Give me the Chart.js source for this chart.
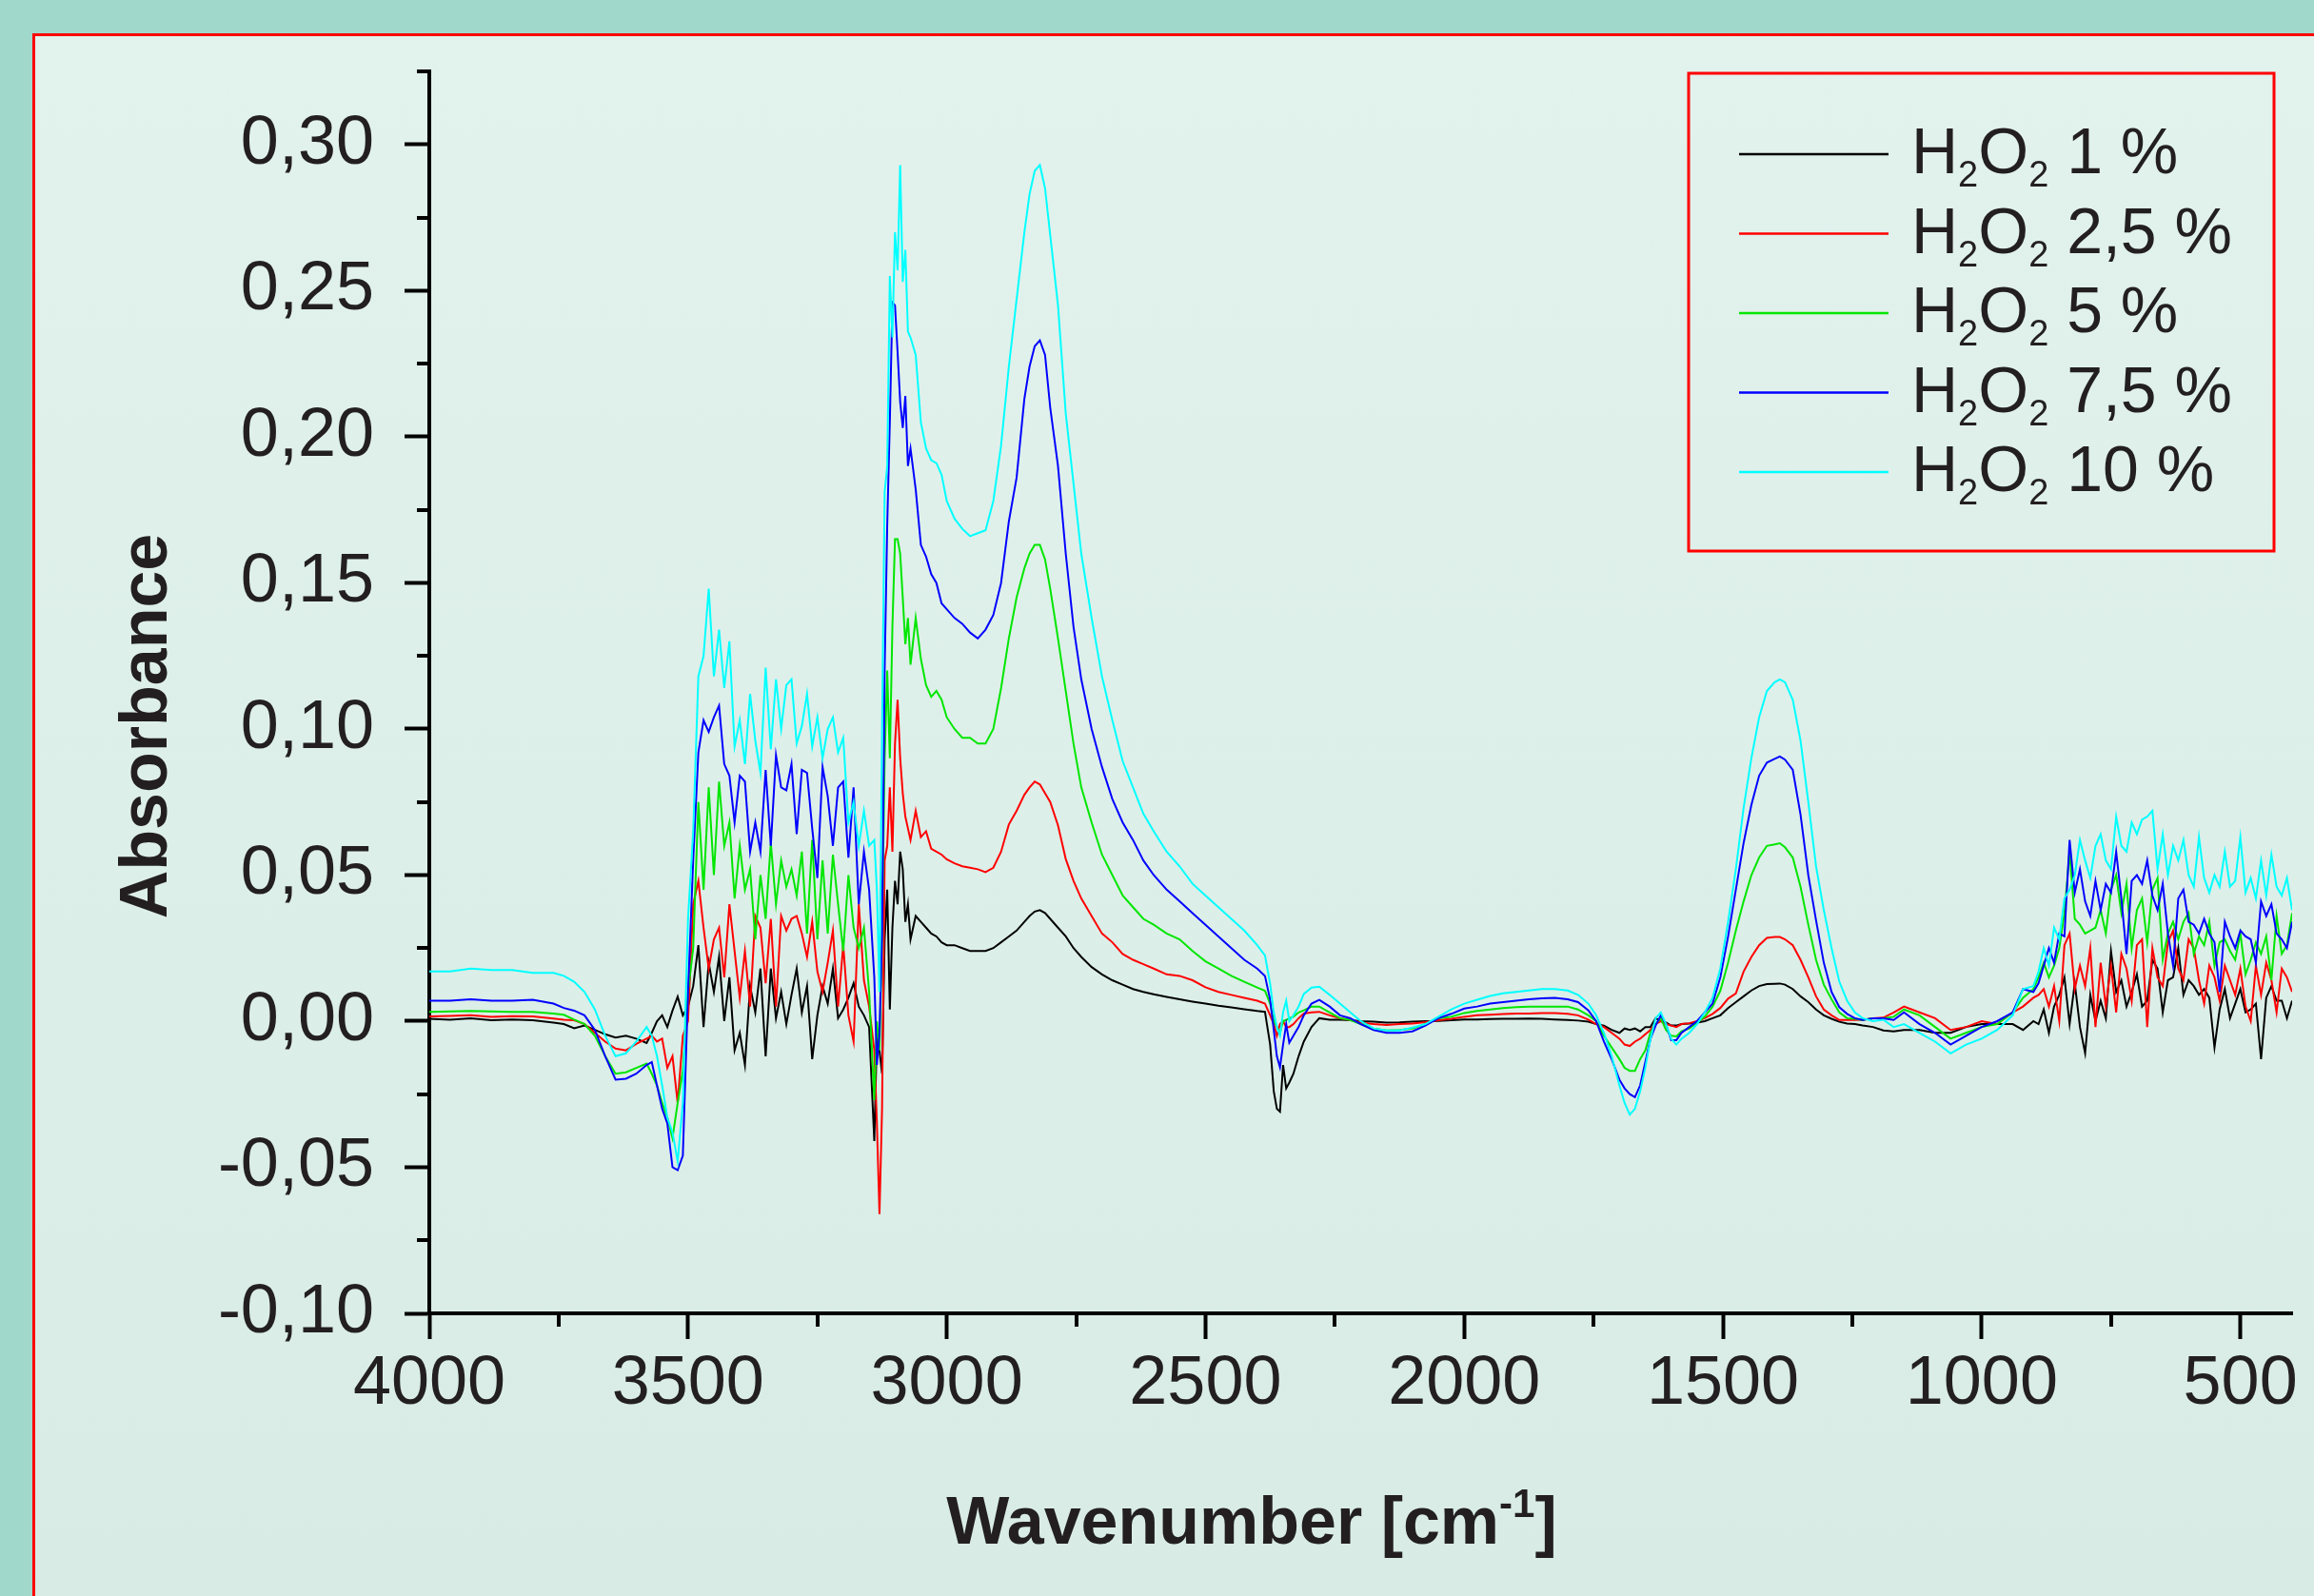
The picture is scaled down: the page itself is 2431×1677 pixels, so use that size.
<!DOCTYPE html>
<html>
<head>
<meta charset="utf-8">
<title>Absorbance H2O2</title>
<script src="https://cdn.jsdelivr.net/npm/chart.js@4.4.1/dist/chart.umd.min.js"></script>
<style>
  html, body { margin: 0; padding: 0; width: 2431px; height: 1677px; overflow: hidden; background: #a0d8cb; }
  #panel { position: absolute; left: 34px; top: 35px; width: 2420px; height: 1660px;
           border-left: 3px solid #ff0000; border-top: 3px solid #ff0000;
           background: linear-gradient(#e2f2ed, #d8ece5); }
  #chart { position: absolute; left: 0; top: 0; }
</style>
</head>
<body>
<div id="panel"></div>
<canvas id="chart" width="2431" height="1677"></canvas>
<script>
// x values (cm-1), shared by all series
const wavenumbers = [
  4000, 3960, 3920, 3880, 3840, 3800, 3760, 3740, 3720, 3700,
  3680, 3660, 3640, 3620, 3600, 3580, 3570, 3560, 3550, 3540,
  3530, 3520, 3510,
  3500, 3490, 3480, 3470, 3460, 3450, 3440, 3430, 3420, 3410,
  3400, 3390, 3380, 3370, 3360, 3350, 3340, 3330, 3320, 3310,
  3300, 3290, 3280, 3270, 3260, 3250, 3240, 3230, 3220, 3210,
  3200, 3190, 3180, 3170, 3160, 3150, 3140,
  3135, 3130, 3125, 3120, 3115, 3110, 3105, 3100, 3095, 3090,
  3085, 3080, 3075, 3070, 3060, 3050, 3040, 3030, 3020, 3010,
  3000, 2985, 2970, 2955, 2940, 2925, 2910, 2895, 2880, 2865,
  2850, 2840, 2830, 2820, 2810, 2800, 2785, 2770, 2755, 2740,
  2720, 2700, 2680, 2660, 2640, 2620, 2600, 2575, 2550, 2525,
  2500, 2475, 2450, 2425, 2400, 2385,
  2375, 2368, 2362, 2356, 2350, 2344, 2338, 2330, 2320, 2310,
  2295, 2280, 2260, 2240, 2220, 2200, 2175, 2150, 2125, 2100,
  2075, 2050, 2025, 2000, 1975, 1950, 1925, 1900, 1875, 1850,
  1825, 1800, 1780, 1760, 1745, 1730, 1715, 1700, 1690, 1680,
  1670, 1660, 1650, 1640, 1630, 1620, 1610, 1600, 1590, 1580,
  1565, 1550, 1535, 1520, 1505, 1490, 1475, 1460, 1445, 1430,
  1415, 1400, 1390, 1380, 1365, 1350, 1335, 1320, 1305, 1290,
  1275, 1260, 1245, 1230, 1210, 1190, 1170, 1150,
  1120, 1090, 1060, 1030, 1000, 970, 940, 920, 900,
  890, 880, 870, 860, 850, 840, 830, 820, 810, 800,
  790, 780, 770, 760, 750, 740, 730, 720, 710, 700,
  690, 680, 670, 660, 650, 640, 630, 620, 610, 600,
  590, 580, 570, 560, 550, 540, 530, 520, 510, 500,
  490, 480, 470, 460, 450, 440, 430, 420, 410, 400
];

// H2O2 1 %
const abs1 = [
  0.0008, 0.0005, 0.001, 0.0003, 0.0006, 0.0003, -0.0005, -0.001, -0.0024, -0.0015,
  -0.003, -0.0045, -0.0056, -0.005, -0.006, -0.0075, -0.004, 0.000, 0.002, -0.002,
  0.0036, 0.0084, 0.002,
  0.005, 0.012, 0.026, -0.002, 0.020, 0.010, 0.022, 0.000, 0.015, -0.010,
  -0.004, -0.015, 0.012, 0.003, 0.018, -0.012, 0.018, 0.001, 0.010, -0.001,
  0.009, 0.018, 0.003, 0.012, -0.013, 0.002, 0.012, 0.006, 0.018, 0.001,
  0.004, 0.008, 0.013, 0.005, 0.002, -0.002, -0.041,
  -0.005, -0.010, -0.018, 0.028, 0.045, 0.004, 0.032, 0.048, 0.040, 0.058,
  0.052, 0.034, 0.040, 0.028, 0.036, 0.034, 0.032, 0.030, 0.029, 0.027,
  0.026, 0.026, 0.025, 0.024, 0.024, 0.024, 0.025, 0.027, 0.029, 0.031,
  0.034, 0.036, 0.0375, 0.038, 0.037, 0.035, 0.032, 0.029, 0.025, 0.022,
  0.0185, 0.016, 0.014, 0.0125, 0.011, 0.010, 0.0092, 0.0083, 0.0075, 0.0067,
  0.006, 0.0053, 0.0047, 0.0041, 0.0035, 0.0032,
  -0.008, -0.024, -0.030, -0.031, -0.015, -0.023, -0.021, -0.018, -0.012, -0.007,
  -0.002, 0.001, 0.0005, 0.0005, 0.0003, 0.000, -0.0002, -0.0005, -0.0004, -0.0002,
  0.000, 0.0001, 0.0003, 0.0006, 0.0006, 0.0007, 0.0008, 0.0008, 0.0009, 0.0008,
  0.0006, 0.0004, 0.0002, -0.0002, -0.001, -0.0015, -0.003, -0.004, -0.0025, -0.003,
  -0.0025, -0.0035, -0.002, -0.002, 0.001, 0.000, -0.0005, -0.0015, -0.0015, -0.001,
  -0.0008, -0.0005, 0.000, 0.001, 0.002, 0.0045, 0.0065, 0.0085, 0.0105, 0.012,
  0.0127, 0.0128, 0.0129, 0.0125, 0.011, 0.0085, 0.0065, 0.004, 0.002, 0.0008,
  -0.0002, -0.0008, -0.001, -0.0015, -0.002, -0.0032, -0.0035, -0.003,
  -0.003, -0.004, -0.004, -0.002, -0.001, -0.001, -0.001, -0.003, 0.000,
  -0.001, 0.004, -0.004, 0.005, 0.009, 0.015, -0.001, 0.013, -0.002, -0.011,
  0.009, 0.000, 0.007, 0.001, 0.024, 0.010, 0.014, 0.005, 0.010, 0.016,
  0.005, 0.007, 0.021, 0.018, 0.003, 0.014, 0.015, 0.025, 0.009, 0.014,
  0.012, 0.009, 0.011, 0.008, -0.009, 0.004, 0.011, 0.001, 0.006, 0.011,
  0.003, 0.004, 0.006, -0.013, 0.008, 0.012, 0.007, 0.007, 0.001, 0.007
];

// H2O2 2,5 %
const abs2_5 = [
  0.0016, 0.0018, 0.002, 0.0015, 0.0017, 0.0016, 0.0009, 0.0005, 0.0003, -0.001,
  -0.004, -0.007, -0.0094, -0.010, -0.0078, -0.006, -0.005, -0.007, -0.006, -0.016,
  -0.012, -0.028, -0.005,
  0.000, 0.040, 0.048, 0.032, 0.018, 0.028, 0.032, 0.015, 0.040, 0.024,
  0.008, 0.024, 0.005, 0.036, 0.032, 0.013, 0.035, 0.005, 0.036, 0.031,
  0.035, 0.036, 0.030, 0.022, 0.034, 0.017, 0.010, 0.020, 0.031, 0.005,
  0.026, 0.002, -0.007, 0.040, 0.014, 0.005, -0.010,
  -0.035, -0.066, -0.030, 0.055, 0.060, 0.080, 0.058, 0.095, 0.110, 0.090,
  0.078, 0.070, 0.066, 0.062, 0.072, 0.063, 0.065, 0.059, 0.058, 0.057,
  0.0554, 0.054, 0.053, 0.0525, 0.052, 0.051, 0.0525, 0.058, 0.0673, 0.072,
  0.0775, 0.080, 0.082, 0.081, 0.078, 0.075, 0.067, 0.0555, 0.048, 0.042,
  0.036, 0.030, 0.027, 0.023, 0.021, 0.0195, 0.018, 0.016, 0.0155, 0.014,
  0.0116, 0.010, 0.009, 0.008, 0.007, 0.006,
  0.002, -0.001, -0.005, -0.001, 0.000, -0.002, -0.002, -0.001, 0.001, 0.0026,
  0.003, 0.0032, 0.002, 0.001, 0.0004, -0.0005, -0.001, -0.0013, -0.001, -0.0008,
  -0.0003, 0.0003, 0.0008, 0.0015, 0.002, 0.0022, 0.0024, 0.0026, 0.0026, 0.0028,
  0.0028, 0.0025, 0.002, 0.0005, -0.001, -0.002, -0.004, -0.006, -0.008, -0.0085,
  -0.007, -0.006, -0.0045, -0.003, -0.001, 0.000, -0.001, -0.0015, -0.002, -0.001,
  -0.0007, 0.000, 0.001, 0.0025, 0.0045, 0.0077, 0.0095, 0.017, 0.022, 0.026,
  0.0285, 0.0288, 0.0288, 0.028, 0.026, 0.021, 0.015, 0.0085, 0.004, 0.002,
  0.0004, 0.0004, 0.0004, 0.0005, 0.001, 0.0012, 0.003, 0.005,
  0.003, 0.001, -0.003, -0.002, 0.000, -0.001, 0.003, 0.005, 0.008,
  0.009, 0.011, 0.005, 0.012, 0.000, 0.026, 0.030, 0.011, 0.019, 0.012,
  0.025, -0.002, 0.020, 0.005, 0.019, 0.003, 0.023, 0.018, 0.007, 0.026,
  0.028, -0.002, 0.025, 0.015, 0.012, 0.027, 0.031, 0.018, 0.014, 0.028,
  0.025, 0.014, 0.006, 0.019, 0.015, 0.007, 0.019, 0.014, 0.009, 0.018,
  0.005, 0.000, 0.019, 0.009, 0.020, 0.014, 0.003, 0.018, 0.015, 0.010
];

// H2O2 5 %
const abs5 = [
  0.0032, 0.0033, 0.0035, 0.0033, 0.0032, 0.0032, 0.0026, 0.0022, 0.0005, -0.001,
  -0.005, -0.012, -0.018, -0.0175, -0.016, -0.0145, -0.018, -0.022, -0.028, -0.033,
  -0.040, -0.028, -0.017,
  0.010, 0.025, 0.075, 0.045, 0.080, 0.050, 0.082, 0.060, 0.068, 0.042,
  0.060, 0.045, 0.052, 0.028, 0.050, 0.035, 0.061, 0.040, 0.055, 0.046,
  0.052, 0.043, 0.058, 0.030, 0.062, 0.028, 0.055, 0.030, 0.057, 0.040,
  0.024, 0.050, 0.032, 0.025, 0.032, 0.010, -0.027,
  0.000, -0.010, 0.030, 0.090, 0.120, 0.090, 0.135, 0.165, 0.165, 0.160,
  0.145, 0.129, 0.138, 0.122, 0.138, 0.124, 0.115, 0.111, 0.113, 0.110,
  0.104, 0.100, 0.097, 0.097, 0.095, 0.095, 0.100, 0.114, 0.131, 0.145,
  0.155, 0.160, 0.163, 0.163, 0.158, 0.148, 0.131, 0.113, 0.095, 0.080,
  0.068, 0.057, 0.050, 0.043, 0.039, 0.035, 0.033, 0.030, 0.028, 0.024,
  0.0205, 0.018, 0.0155, 0.0135, 0.0115, 0.0104,
  0.006, 0.000, -0.002, -0.004, 0.000, 0.0004, 0.001, 0.0015, 0.003, 0.0037,
  0.005, 0.005, 0.003, 0.001, 0.0004, -0.001, -0.0025, -0.0032, -0.003, -0.0025,
  -0.001, 0.001, 0.0015, 0.0028, 0.0035, 0.004, 0.0045, 0.0048, 0.005, 0.005,
  0.005, 0.005, 0.004, 0.002, 0.000, -0.005, -0.009, -0.013, -0.016, -0.017,
  -0.017, -0.013, -0.010, -0.004, -0.001, 0.001, -0.003, -0.005, -0.0052, -0.0035,
  -0.0025, -0.0005, 0.0015, 0.005, 0.0104, 0.020, 0.031, 0.041, 0.050, 0.056,
  0.060, 0.0605, 0.0609, 0.0595, 0.056, 0.046, 0.033, 0.021, 0.0125, 0.0075,
  0.003, 0.001, 0.0008, 0.0004, 0.001, 0.001, 0.0015, 0.004,
  0.002, -0.002, -0.006, -0.004, -0.002, -0.001, 0.003, 0.008, 0.011,
  0.015, 0.020, 0.015, 0.019, 0.025, 0.037, 0.058, 0.035, 0.033, 0.030,
  0.031, 0.032, 0.038, 0.030, 0.045, 0.050, 0.037, 0.047, 0.025, 0.038,
  0.042, 0.027, 0.045, 0.049, 0.021, 0.030, 0.034, 0.028, 0.034, 0.037,
  0.023, 0.029, 0.026, 0.034, 0.019, 0.027, 0.028, 0.024, 0.021, 0.030,
  0.016, 0.021, 0.027, 0.023, 0.029, 0.014, 0.036, 0.023, 0.026, 0.037
];

// H2O2 7,5 %
const abs7_5 = [
  0.007, 0.007, 0.0075, 0.007, 0.007, 0.0073, 0.006, 0.0045, 0.0036, 0.002,
  -0.003, -0.012, -0.020, -0.0197, -0.018, -0.015, -0.014, -0.022, -0.030, -0.035,
  -0.050, -0.051, -0.046,
  0.010, 0.055, 0.092, 0.103, 0.099, 0.104, 0.108, 0.088, 0.084, 0.068,
  0.084, 0.082, 0.058, 0.068, 0.058, 0.086, 0.060, 0.091, 0.080, 0.079,
  0.088, 0.064, 0.086, 0.085, 0.066, 0.049, 0.087, 0.077, 0.060, 0.080,
  0.082, 0.056, 0.080, 0.040, 0.058, 0.045, 0.015,
  -0.015, -0.004, 0.030, 0.120, 0.170, 0.205, 0.246, 0.245, 0.229, 0.212,
  0.203, 0.214, 0.190, 0.196, 0.182, 0.163, 0.159, 0.153, 0.150, 0.143,
  0.141, 0.138, 0.136, 0.133, 0.131, 0.134, 0.139, 0.150, 0.171, 0.186,
  0.213, 0.224, 0.231, 0.233, 0.228, 0.210, 0.190, 0.160, 0.135, 0.117,
  0.100, 0.087, 0.076, 0.068, 0.062, 0.055, 0.050, 0.045, 0.041, 0.037,
  0.033, 0.029, 0.025, 0.021, 0.018, 0.0155,
  0.0073, -0.003, -0.012, -0.0158, -0.008, -0.001, -0.0074, -0.005, -0.002, 0.002,
  0.006, 0.0073, 0.005, 0.002, 0.001, -0.001, -0.003, -0.004, -0.004, -0.0035,
  -0.0015, 0.001, 0.0025, 0.0043, 0.005, 0.006, 0.0065, 0.007, 0.0075, 0.0078,
  0.008, 0.0075, 0.0065, 0.0037, 0.000, -0.007, -0.013, -0.020, -0.023, -0.025,
  -0.026, -0.022, -0.014, -0.006, -0.0015, 0.002, -0.001, -0.0065, -0.0065, -0.004,
  -0.002, 0.000, 0.003, 0.006, 0.015, 0.029, 0.045, 0.061, 0.074, 0.084,
  0.0885, 0.0898, 0.0906, 0.0895, 0.086, 0.0707, 0.050, 0.0345, 0.020, 0.010,
  0.0048, 0.0025, 0.001, 0.0004, 0.001, 0.001, 0.0004, 0.003,
  -0.001, -0.004, -0.008, -0.005, -0.002, 0.000, 0.003, 0.011, 0.010,
  0.013, 0.019, 0.025, 0.020, 0.030, 0.029, 0.062, 0.044, 0.052, 0.041,
  0.036, 0.048, 0.038, 0.047, 0.044, 0.058, 0.042, 0.023, 0.048, 0.050,
  0.047, 0.055, 0.043, 0.038, 0.047, 0.030, 0.019, 0.042, 0.045, 0.034,
  0.033, 0.030, 0.035, 0.030, 0.027, 0.010, 0.034, 0.029, 0.025, 0.031,
  0.029, 0.028, 0.020, 0.041, 0.036, 0.040, 0.030, 0.028, 0.025, 0.034
];

// H2O2 10 %
const abs10 = [
  0.017, 0.017, 0.018, 0.0175, 0.0175, 0.0165, 0.0165, 0.0155, 0.0135, 0.010,
  0.004, -0.005, -0.012, -0.011, -0.007, -0.002, -0.005, -0.012, -0.022, -0.033,
  -0.038, -0.048, -0.028,
  0.035, 0.065, 0.118, 0.125, 0.148, 0.118, 0.134, 0.114, 0.130, 0.094,
  0.103, 0.088, 0.112, 0.096, 0.085, 0.121, 0.093, 0.117, 0.100, 0.115,
  0.117, 0.095, 0.101, 0.112, 0.094, 0.104, 0.090, 0.100, 0.104, 0.092,
  0.097, 0.068, 0.075, 0.060, 0.072, 0.060, 0.062,
  0.045, 0.010, 0.100, 0.181, 0.190, 0.255, 0.234, 0.270, 0.257, 0.293,
  0.253, 0.264, 0.236, 0.234, 0.228, 0.205, 0.196, 0.192, 0.191, 0.187,
  0.178, 0.172, 0.1685, 0.166, 0.167, 0.168, 0.178, 0.197, 0.224, 0.247,
  0.270, 0.283, 0.291, 0.293, 0.285, 0.269, 0.245, 0.208, 0.184, 0.160,
  0.138, 0.118, 0.103, 0.089, 0.080, 0.071, 0.065, 0.058, 0.053, 0.047,
  0.043, 0.039, 0.035, 0.031, 0.026, 0.0225,
  0.0127, 0.003, -0.002, -0.005, 0.003, 0.007, 0.000, 0.002, 0.005, 0.0093,
  0.0115, 0.0118, 0.009, 0.006, 0.003, 0.000, -0.0025, -0.0032, -0.0032, -0.0022,
  -0.001, 0.0015, 0.004, 0.006, 0.0073, 0.0086, 0.0095, 0.010, 0.0105, 0.011,
  0.011, 0.0105, 0.009, 0.006, 0.002, -0.004, -0.012, -0.022, -0.028, -0.032,
  -0.030, -0.024, -0.016, -0.006, 0.001, 0.003, -0.001, -0.006, -0.008, -0.006,
  -0.004, -0.001, 0.003, 0.008, 0.018, 0.034, 0.052, 0.073, 0.090, 0.104,
  0.113, 0.116, 0.117, 0.116, 0.110, 0.096, 0.075, 0.053, 0.038, 0.025,
  0.0135, 0.007, 0.003, 0.001, 0.000, 0.0005, -0.002, -0.001,
  -0.004, -0.007, -0.011, -0.008, -0.006, -0.003, 0.002, 0.011, 0.012,
  0.017, 0.025, 0.019, 0.032, 0.028, 0.042, 0.045, 0.050, 0.062, 0.055,
  0.049, 0.060, 0.064, 0.055, 0.052, 0.070, 0.060, 0.058, 0.068, 0.064,
  0.069, 0.070, 0.072, 0.052, 0.064, 0.050, 0.060, 0.055, 0.062, 0.050,
  0.046, 0.063, 0.049, 0.044, 0.050, 0.046, 0.058, 0.046, 0.048, 0.063,
  0.044, 0.049, 0.042, 0.055, 0.043, 0.057, 0.046, 0.043, 0.049, 0.038
];

const seriesLabels = ['H₂O₂ 1 %', 'H₂O₂ 2,5 %', 'H₂O₂ 5 %', 'H₂O₂ 7,5 %', 'H₂O₂ 10 %'];
const seriesValues = [abs1, abs2_5, abs5, abs7_5, abs10];

const xTickValues = [4000, 3500, 3000, 2500, 2000, 1500, 1000, 500];
const xMinorTicks = [3750, 3250, 2750, 2250, 1750, 1250, 750];
const yTickValues = [-0.1, -0.05, 0, 0.05, 0.1, 0.15, 0.2, 0.25, 0.3];
const yMinorTicks = [-0.075, -0.025, 0.025, 0.075, 0.125, 0.175, 0.225, 0.275, 0.325];

seriesValues.forEach((s, i) => {
  if (s.length !== wavenumbers.length) {
    throw new Error(seriesLabels[i] + ': ' + s.length + ' values, expected ' + wavenumbers.length);
  }
});

const FONT = "'Liberation Sans', Arial, sans-serif";
const TEXT = '#231f20';
const colors = ['#000000', '#ff0000', '#00e600', '#0000ff', '#00ffff'];
const drawOrder = [4, 3, 2, 1, 0];

// minor ticks + axis titles
const axisExtras = {
  id: 'axisExtras',
  afterDraw(chart) {
    const { ctx, chartArea, scales: { x, y } } = chart;
    ctx.save();
    ctx.strokeStyle = '#000';
    ctx.lineWidth = 4;
    ctx.beginPath();
    xMinorTicks.forEach(v => {
      const px = Math.round(x.getPixelForValue(v));
      ctx.moveTo(px, chartArea.bottom);
      ctx.lineTo(px, chartArea.bottom + 14);
    });
    yMinorTicks.forEach(v => {
      const py = Math.round(y.getPixelForValue(v));
      ctx.moveTo(chartArea.left, py);
      ctx.lineTo(chartArea.left - 13, py);
    });
    ctx.stroke();

    ctx.fillStyle = TEXT;
    ctx.textBaseline = 'alphabetic';
    // x title with superscript
    const big = 'bold 70px ' + FONT, small = 'bold 42px ' + FONT;
    ctx.font = big;
    const w1 = ctx.measureText('Wavenumber [cm').width;
    const w3 = ctx.measureText(']').width;
    ctx.font = small;
    const w2 = ctx.measureText('-1').width;
    let tx = 1315 - (w1 + w2 + w3) / 2;
    const base = 1622;
    ctx.textAlign = 'left';
    ctx.font = big;
    ctx.fillText('Wavenumber [cm', tx, base);
    tx += w1;
    ctx.font = small;
    ctx.fillText('-1', tx, base - 28);
    tx += w2;
    ctx.font = big;
    ctx.fillText(']', tx, base);

    // y title
    ctx.translate(150, 763);
    ctx.rotate(-Math.PI / 2);
    ctx.textAlign = 'center';
    ctx.font = big;
    ctx.fillText('Absorbance', 0, 25);
    ctx.restore();
  }
};

// boxed legend with subscripts
function drawLabel(ctx, text, x, y) {
  let cx = x;
  for (const ch of text) {
    if (ch === '₂') {
      ctx.font = '38px ' + FONT;
      ctx.fillText('2', cx, y + 14);
      cx += ctx.measureText('2').width;
    } else {
      ctx.font = '68px ' + FONT;
      ctx.fillText(ch, cx, y);
      cx += ctx.measureText(ch).width;
    }
  }
}

const boxLegend = {
  id: 'boxLegend',
  afterDraw(chart) {
    const ctx = chart.ctx;
    ctx.save();
    ctx.strokeStyle = '#ff0000';
    ctx.lineWidth = 3;
    ctx.strokeRect(1774, 77, 615, 502);
    ctx.fillStyle = TEXT;
    ctx.textAlign = 'left';
    ctx.textBaseline = 'alphabetic';
    chart.data.datasets.forEach((ds, i) => {
      const rowY = 162 + i * 83.5;
      ctx.strokeStyle = ds.borderColor;
      ctx.lineWidth = 2.5;
      ctx.beginPath();
      ctx.moveTo(1827, rowY);
      ctx.lineTo(1984, rowY);
      ctx.stroke();
      drawLabel(ctx, ds.label, 2008, rowY + 20);
    });
    ctx.restore();
  }
};

Chart.defaults.font.family = FONT;

new Chart(document.getElementById('chart'), {
  type: 'line',
  data: {
    datasets: seriesValues.map((vals, i) => ({
      label: seriesLabels[i],
      data: vals.map((v, j) => ({ x: wavenumbers[j], y: v })),
      borderColor: colors[i],
      borderWidth: 2,
      pointRadius: 0,
      tension: 0,
      fill: false,
      order: drawOrder[i]
    }))
  },
  options: {
    responsive: false,
    animation: false,
    devicePixelRatio: 1,
    layout: { padding: { left: 0, right: 23, top: 70, bottom: 0 } },
    plugins: { legend: { display: false }, tooltip: { enabled: false } },
    scales: {
      x: {
        type: 'linear',
        reverse: true,
        min: 400,
        max: 4000,
        afterBuildTicks: s => { s.ticks = xTickValues.map(v => ({ value: v })); },
        afterFit: s => { s.height = 297; },
        border: { display: true, color: '#000', width: 4 },
        grid: { drawOnChartArea: false, drawTicks: true, tickLength: 27, tickWidth: 4, tickColor: '#000' },
        ticks: { padding: 5, color: TEXT, font: { size: 72 }, autoSkip: false, maxRotation: 0,
                 callback: v => String(v) }
      },
      y: {
        type: 'linear',
        min: -0.1,
        max: 0.325,
        afterBuildTicks: s => { s.ticks = yTickValues.map(v => ({ value: v })); },
        afterFit: s => { s.width = 451; },
        border: { display: true, color: '#000', width: 4 },
        grid: { drawOnChartArea: false, drawTicks: true, tickLength: 26, tickWidth: 4, tickColor: '#000' },
        ticks: { padding: 32, color: TEXT, font: { size: 72 },
                 callback: v => v.toFixed(2).replace('.', ',') }
      }
    }
  },
  plugins: [axisExtras, boxLegend]
});
</script>
</body>
</html>
